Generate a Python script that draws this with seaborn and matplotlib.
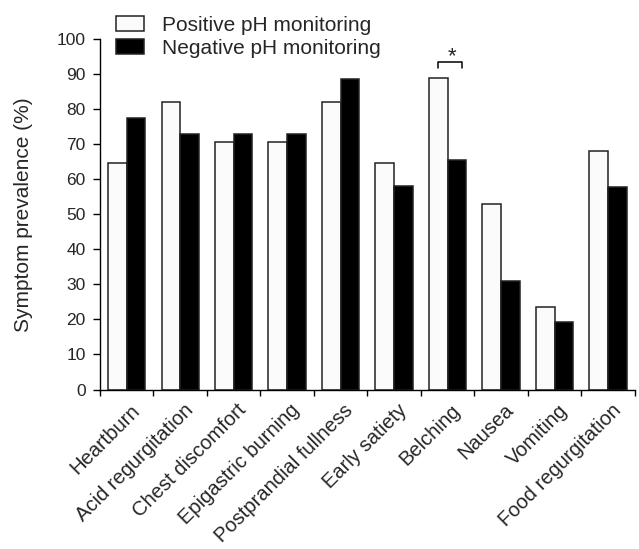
import matplotlib
matplotlib.use('Agg')
import matplotlib.pyplot as plt
import matplotlib.transforms as mtransforms
import pandas as pd
import numpy as np
import seaborn as sns

symptoms = ['Heartburn', 'Acid regurgitation', 'Chest discomfort', 'Epigastric burning',
            'Postprandial fullness', 'Early satiety', 'Belching', 'Nausea', 'Vomiting',
            'Food regurgitation']
positive = [64.7, 82.0, 70.5, 70.5, 82.0, 64.7, 89.0, 52.8, 23.5, 68.0]
negative = [77.6, 73.0, 73.0, 73.0, 88.6, 58.0, 65.4, 31.0, 19.4, 57.7]
groups = ['Positive pH monitoring', 'Negative pH monitoring']
yticks = list(range(0, 101, 10))

df = pd.DataFrame({
    'symptom': symptoms * 2,
    'value': positive + negative,
    'group': [groups[0]] * len(symptoms) + [groups[1]] * len(symptoms),
})

sns.set_style('ticks')
plt.rcParams['font.family'] = ['Liberation Sans', 'DejaVu Sans']

fig = plt.figure(figsize=(6.39, 5.49), dpi=100)
ax = fig.add_axes([0.1565, 0.2905, 0.837, 0.6384])

bar_w = 0.7
sns.barplot(data=df, x='symptom', y='value', hue='group', order=symptoms,
            hue_order=groups, palette=['#fbfbfb', 'black'], width=bar_w,
            edgecolor='#222222', linewidth=1.1, saturation=1, ax=ax)

ax.set_xlim(-0.5, len(symptoms) - 0.5)
ax.set_ylim(0, 100)
ax.set_yticks(yticks)
ax.tick_params(axis='y', labelsize=12.5, length=4.8, width=1, color='black', pad=5.5)
ax.tick_params(axis='x', which='major', length=0, labelsize=14.5, pad=8)
ax.set_xticks(np.arange(-0.5, len(symptoms), 1.0), minor=True)
ax.tick_params(axis='x', which='minor', length=4.5, width=1, color='black')
ax.set_xticklabels(symptoms, rotation=45, ha='right', va='top', rotation_mode='anchor')
shift = mtransforms.ScaledTranslation(3 / 100, 0, fig.dpi_scale_trans)
for lab in ax.get_xticklabels():
    lab.set_transform(lab.get_transform() + shift)
ax.set_xlabel('')
ax.set_ylabel('Symptom prevalence (%)', fontsize=15)
ax.yaxis.set_label_coords(-0.125, 0.5)
for s in ['top', 'right']:
    ax.spines[s].set_visible(False)
for s in ['left', 'bottom']:
    ax.spines[s].set_linewidth(1)
    ax.spines[s].set_color('black')

# significance bracket over Belching
i = symptoms.index('Belching')
x1, x2 = i - 0.175, i + 0.266
ax.plot([x1, x1, x2, x2], [91.6, 93.5, 93.5, 91.6], color='black', lw=1.1, clip_on=False)
ax.text((x1 + x2) / 2 + 0.03, 93.3, '*', ha='center', va='baseline', fontsize=16)

leg = ax.legend(loc='upper left', bbox_to_anchor=(116 / 639, 1 - 16 / 549),
                bbox_transform=fig.transFigure, frameon=False, borderpad=0,
                fontsize=15, handlelength=1.35, handleheight=0.72, handletextpad=0.84,
                labelspacing=0.19, borderaxespad=0)

fig.savefig('out.png', dpi=100)
